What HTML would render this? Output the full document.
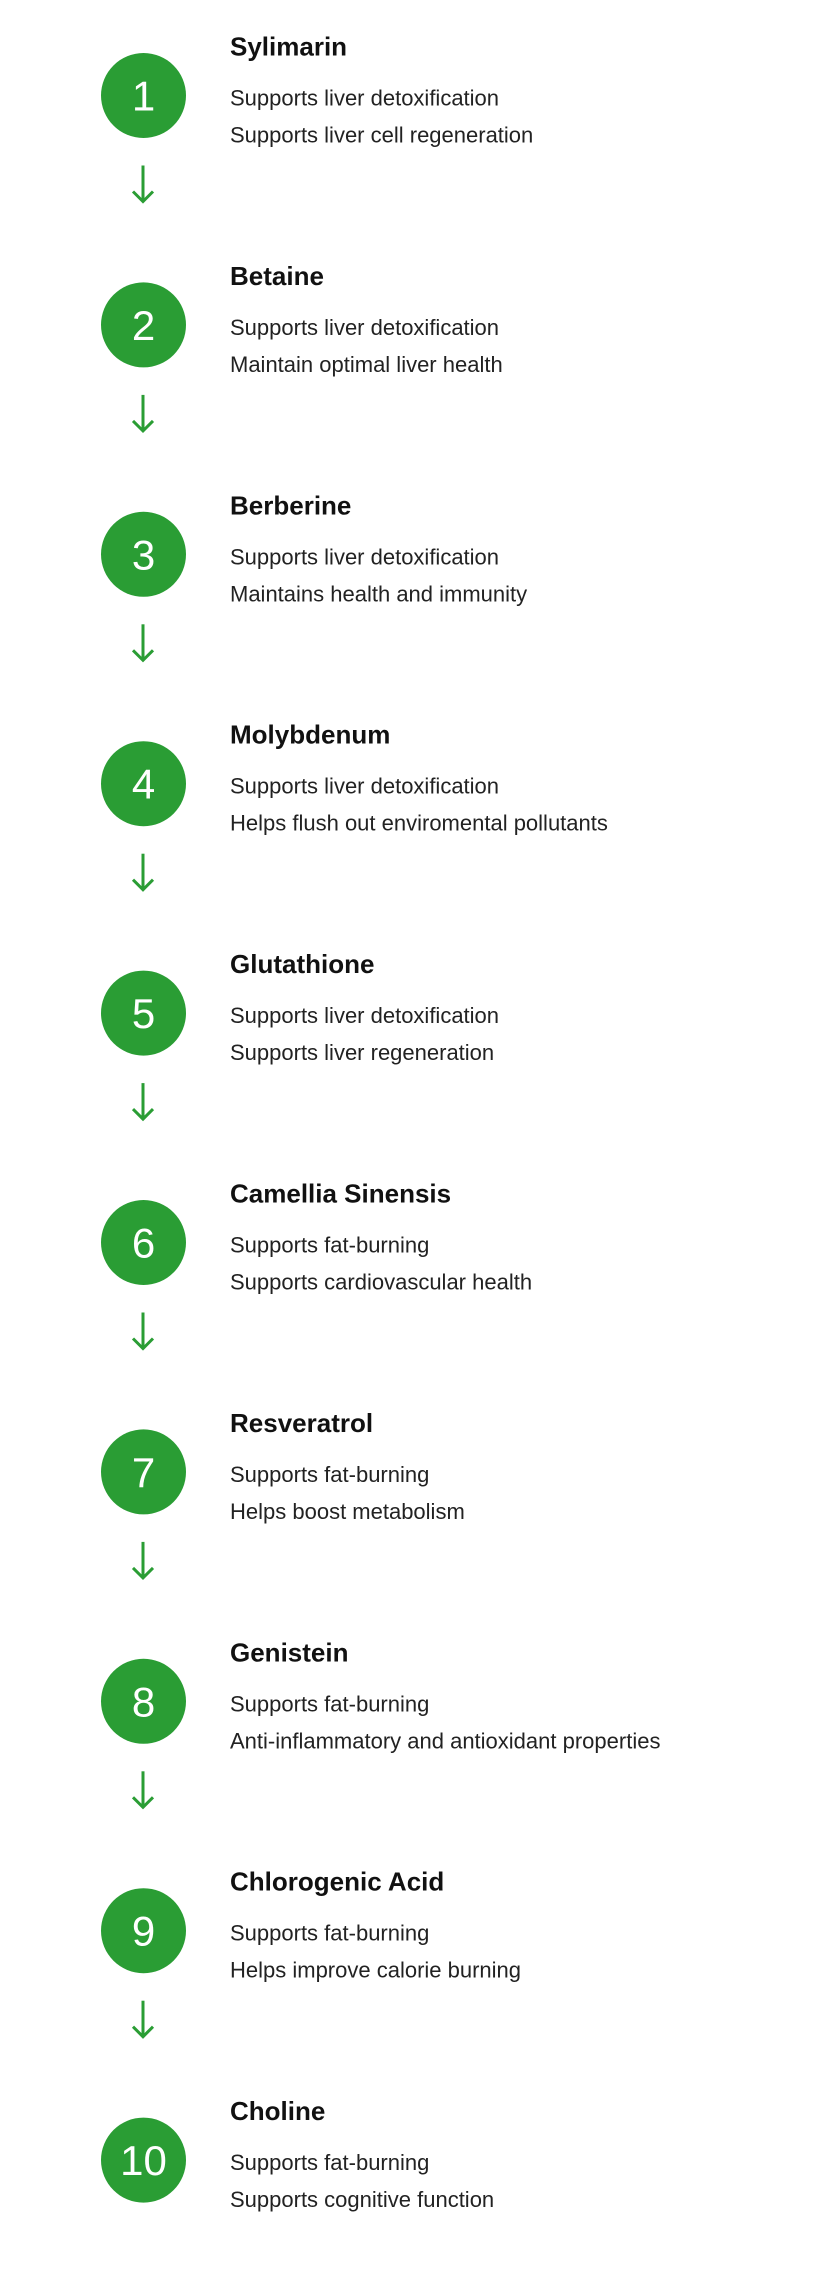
<!DOCTYPE html>
<html><head><meta charset="utf-8"><style>
html,body{margin:0;padding:0;background:#fff;}
svg{display:block;}
.t{font-family:"Liberation Sans",sans-serif;font-weight:bold;font-size:26px;fill:#111;}
.b{font-family:"Liberation Sans",sans-serif;font-size:22px;fill:#222;}
.n{font-family:"Liberation Sans",sans-serif;font-size:42px;fill:#fff;text-anchor:middle;}
</style></head><body>
<svg width="824" height="2288" viewBox="0 0 824 2288" xmlns="http://www.w3.org/2000/svg">
<g id="s"></g>
<!-- steps generated inline -->
<g transform="translate(0,95.5)">
<circle cx="143.5" cy="0" r="42.5" fill="#2a9d34"/><text class="n" x="143.5" y="15">1</text>
<text class="t" x="230" y="-40">Sylimarin</text>
<text class="b" x="230" y="10">Supports liver detoxification</text>
<text class="b" x="230" y="47">Supports liver cell regeneration</text>
<g stroke="#2a9d34" stroke-width="3" fill="none"><line x1="143" y1="70" x2="143" y2="106"/><polyline points="133,96 143,106 153,96"/></g>
</g>
<g transform="translate(0,324.9)">
<circle cx="143.5" cy="0" r="42.5" fill="#2a9d34"/><text class="n" x="143.5" y="15">2</text>
<text class="t" x="230" y="-40">Betaine</text>
<text class="b" x="230" y="10">Supports liver detoxification</text>
<text class="b" x="230" y="47">Maintain optimal liver health</text>
<g stroke="#2a9d34" stroke-width="3" fill="none"><line x1="143" y1="70" x2="143" y2="106"/><polyline points="133,96 143,106 153,96"/></g>
</g>
<g transform="translate(0,554.3)">
<circle cx="143.5" cy="0" r="42.5" fill="#2a9d34"/><text class="n" x="143.5" y="15">3</text>
<text class="t" x="230" y="-40">Berberine</text>
<text class="b" x="230" y="10">Supports liver detoxification</text>
<text class="b" x="230" y="47">Maintains health and immunity</text>
<g stroke="#2a9d34" stroke-width="3" fill="none"><line x1="143" y1="70" x2="143" y2="106"/><polyline points="133,96 143,106 153,96"/></g>
</g>
<g transform="translate(0,783.7)">
<circle cx="143.5" cy="0" r="42.5" fill="#2a9d34"/><text class="n" x="143.5" y="15">4</text>
<text class="t" x="230" y="-40">Molybdenum</text>
<text class="b" x="230" y="10">Supports liver detoxification</text>
<text class="b" x="230" y="47">Helps flush out enviromental pollutants</text>
<g stroke="#2a9d34" stroke-width="3" fill="none"><line x1="143" y1="70" x2="143" y2="106"/><polyline points="133,96 143,106 153,96"/></g>
</g>
<g transform="translate(0,1013.1)">
<circle cx="143.5" cy="0" r="42.5" fill="#2a9d34"/><text class="n" x="143.5" y="15">5</text>
<text class="t" x="230" y="-40">Glutathione</text>
<text class="b" x="230" y="10">Supports liver detoxification</text>
<text class="b" x="230" y="47">Supports liver regeneration</text>
<g stroke="#2a9d34" stroke-width="3" fill="none"><line x1="143" y1="70" x2="143" y2="106"/><polyline points="133,96 143,106 153,96"/></g>
</g>
<g transform="translate(0,1242.5)">
<circle cx="143.5" cy="0" r="42.5" fill="#2a9d34"/><text class="n" x="143.5" y="15">6</text>
<text class="t" x="230" y="-40">Camellia Sinensis</text>
<text class="b" x="230" y="10">Supports fat-burning</text>
<text class="b" x="230" y="47">Supports cardiovascular health</text>
<g stroke="#2a9d34" stroke-width="3" fill="none"><line x1="143" y1="70" x2="143" y2="106"/><polyline points="133,96 143,106 153,96"/></g>
</g>
<g transform="translate(0,1471.9)">
<circle cx="143.5" cy="0" r="42.5" fill="#2a9d34"/><text class="n" x="143.5" y="15">7</text>
<text class="t" x="230" y="-40">Resveratrol</text>
<text class="b" x="230" y="10">Supports fat-burning</text>
<text class="b" x="230" y="47">Helps boost metabolism</text>
<g stroke="#2a9d34" stroke-width="3" fill="none"><line x1="143" y1="70" x2="143" y2="106"/><polyline points="133,96 143,106 153,96"/></g>
</g>
<g transform="translate(0,1701.3)">
<circle cx="143.5" cy="0" r="42.5" fill="#2a9d34"/><text class="n" x="143.5" y="15">8</text>
<text class="t" x="230" y="-40">Genistein</text>
<text class="b" x="230" y="10">Supports fat-burning</text>
<text class="b" x="230" y="47">Anti-inflammatory and antioxidant properties</text>
<g stroke="#2a9d34" stroke-width="3" fill="none"><line x1="143" y1="70" x2="143" y2="106"/><polyline points="133,96 143,106 153,96"/></g>
</g>
<g transform="translate(0,1930.7)">
<circle cx="143.5" cy="0" r="42.5" fill="#2a9d34"/><text class="n" x="143.5" y="15">9</text>
<text class="t" x="230" y="-40">Chlorogenic Acid</text>
<text class="b" x="230" y="10">Supports fat-burning</text>
<text class="b" x="230" y="47">Helps improve calorie burning</text>
<g stroke="#2a9d34" stroke-width="3" fill="none"><line x1="143" y1="70" x2="143" y2="106"/><polyline points="133,96 143,106 153,96"/></g>
</g>
<g transform="translate(0,2160.1)">
<circle cx="143.5" cy="0" r="42.5" fill="#2a9d34"/><text class="n" x="143.5" y="15">10</text>
<text class="t" x="230" y="-40">Choline</text>
<text class="b" x="230" y="10">Supports fat-burning</text>
<text class="b" x="230" y="47">Supports cognitive function</text>
</g>
</svg>
</body></html>
